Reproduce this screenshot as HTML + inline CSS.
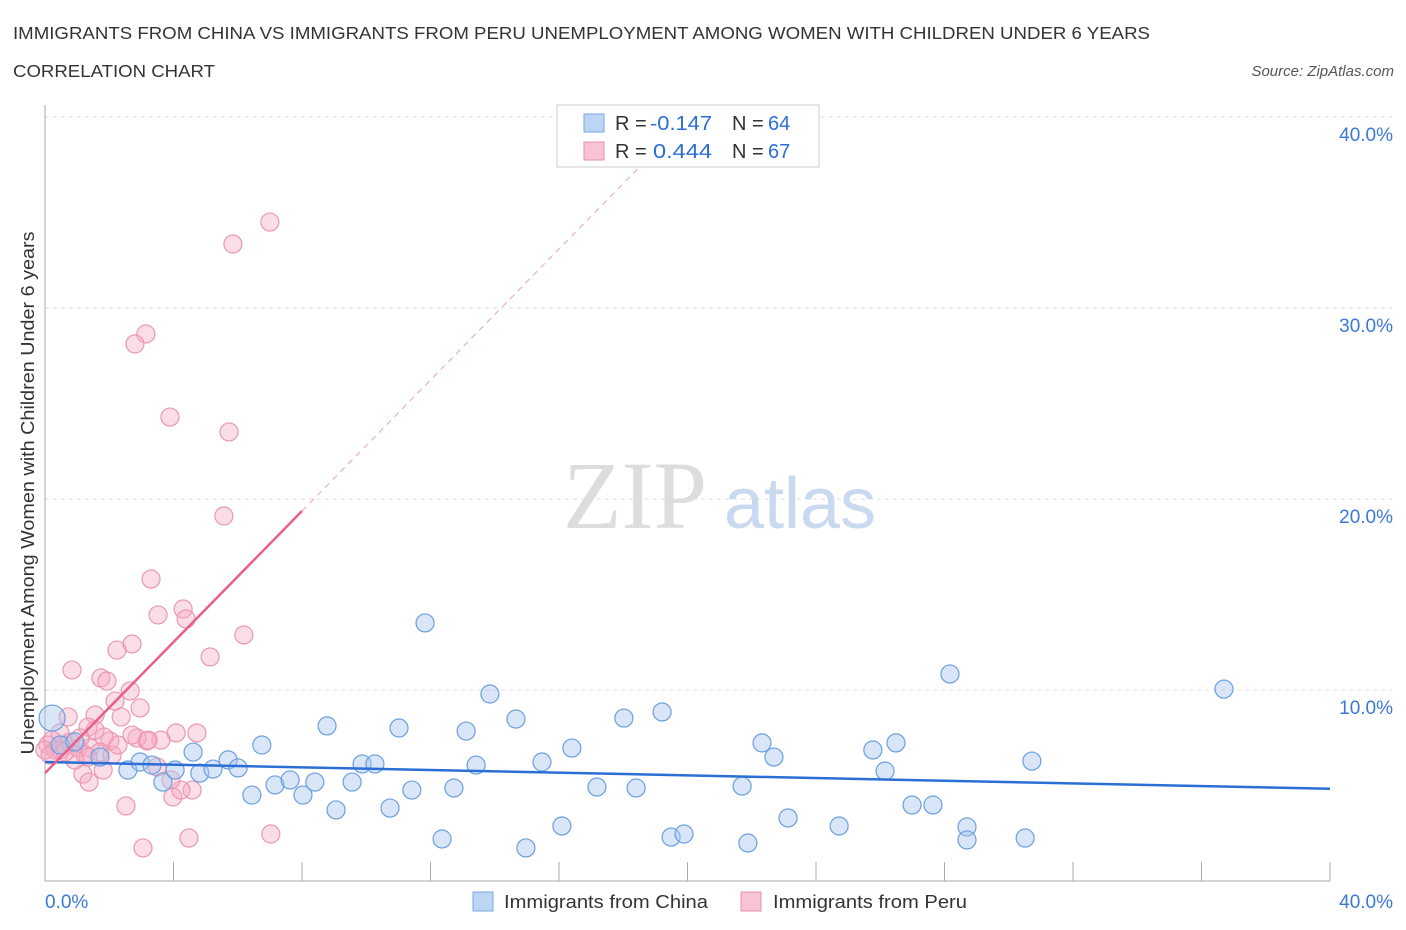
<!DOCTYPE html>
<html><head><meta charset="utf-8">
<style>
body{margin:0;background:#fff;width:1406px;height:930px;overflow:hidden;font-family:"Liberation Sans",sans-serif}
svg{display:block}
</style></head>
<body>
<svg id="chart" width="1406" height="930">
<text x="13" y="39" font-size="17.5" fill="#333" textLength="1137" lengthAdjust="spacingAndGlyphs">IMMIGRANTS FROM CHINA VS IMMIGRANTS FROM PERU UNEMPLOYMENT AMONG WOMEN WITH CHILDREN UNDER 6 YEARS</text>
<text x="13" y="77" font-size="17.5" fill="#333" textLength="202" lengthAdjust="spacingAndGlyphs">CORRELATION CHART</text>
<text x="1394" y="76" font-size="15" fill="#555" font-style="italic" text-anchor="end">Source: ZipAtlas.com</text>
<g id="grid"></g>
<text x="635" y="528" font-size="96" fill="#ddd" font-family="Liberation Serif,serif" text-anchor="middle">ZIP</text>
<text x="800" y="528" font-size="72" fill="#c9d9f0" text-anchor="middle">atlas</text>
<g id="marks"></g>
<text transform="translate(34,493) rotate(-90)" font-size="18" fill="#333" text-anchor="middle" textLength="523" lengthAdjust="spacingAndGlyphs">Unemployment Among Women with Children Under 6 years</text>
<g>
<rect x="557" y="105" width="262" height="62" fill="#fff" stroke="#ccc"/>
<rect x="584" y="114" width="20" height="18" fill="#bcd5f5" stroke="#7aa7e0"/>
<text x="615" y="130" font-size="20" fill="#333">R =</text>
<text x="650" y="130" font-size="20" fill="#2b6fd6" textLength="62" lengthAdjust="spacingAndGlyphs">-0.147</text>
<text x="732" y="130" font-size="20" fill="#333">N =</text>
<text x="768" y="130" font-size="20" fill="#2b6fd6">64</text>
<rect x="584" y="142" width="20" height="18" fill="#f8c4d3" stroke="#e890ab"/>
<text x="615" y="158" font-size="20" fill="#333">R =</text>
<text x="653" y="158" font-size="20" fill="#2b6fd6" textLength="59" lengthAdjust="spacingAndGlyphs">0.444</text>
<text x="732" y="158" font-size="20" fill="#333">N =</text>
<text x="768" y="158" font-size="20" fill="#2b6fd6">67</text>
</g>
<g>
<rect x="473" y="892" width="20" height="19" fill="#bcd5f5" stroke="#7aa7e0"/>
<text x="504" y="908" font-size="18.5" fill="#333" textLength="204" lengthAdjust="spacingAndGlyphs">Immigrants from China</text>
<rect x="741" y="892" width="20" height="19" fill="#f8c4d3" stroke="#e890ab"/>
<text x="773" y="908" font-size="18.5" fill="#333" textLength="194" lengthAdjust="spacingAndGlyphs">Immigrants from Peru</text>
</g>
</svg>
<script>
const chinaX=[0.22,0.47,0.93,1.71,2.58,2.96,3.33,3.67,4.05,4.61,4.82,5.23,5.70,6.01,6.44,6.75,7.16,7.63,8.03,8.40,9.06,8.78,9.56,9.87,10.27,10.74,11.02,11.42,11.83,12.36,12.73,13.11,13.42,13.85,14.66,14.97,15.47,16.09,16.40,17.18,18.02,18.40,19.21,19.49,19.89,21.70,21.88,22.32,22.69,23.13,24.72,25.77,26.15,26.49,26.99,27.64,28.17,28.70,28.70,30.51,30.72,36.70];
const chinaY=[8.53,7.12,7.28,6.49,5.81,6.23,6.07,5.18,5.81,6.75,5.65,5.86,6.34,5.92,4.50,7.12,5.03,5.29,4.50,5.18,3.72,8.12,5.18,6.13,6.13,3.82,8.01,4.76,13.51,2.20,4.87,7.85,6.07,9.79,8.48,1.73,6.23,2.88,6.96,4.92,8.53,4.87,8.85,2.30,2.46,4.97,1.99,7.23,6.49,3.30,2.88,6.86,5.76,7.23,3.98,3.98,10.84,2.83,2.15,2.25,6.28,10.05];
const peruX=[7.00,5.85,3.14,2.80,3.89,5.73,5.57,3.30,4.30,3.52,4.39,2.71,2.24,5.14,6.19,0.84,1.74,1.93,2.65,2.18,2.96,2.37,0.72,1.56,1.34,4.73,4.08,3.61,3.18,2.86,2.02,1.84,0.47,0.22,0.62,1.03,1.40,0.31,1.71,0.78,1.25,0.09,2.09,3.49,1.81,1.18,1.37,2.52,3.98,4.58,4.23,3.92,4.48,7.03,3.05,1.34,0.47,0.93,1.56,0.0,0.16,2.27,0.62,2.71,3.21,1.09];
const peruY=[34.50,33.35,28.64,28.12,24.29,23.51,19.11,15.81,14.24,13.93,13.72,12.41,12.09,11.73,12.88,11.05,10.63,10.47,9.95,9.42,9.06,8.59,8.59,8.69,8.06,7.75,7.75,7.38,7.33,7.49,7.33,7.54,7.75,7.38,7.12,6.96,6.96,6.86,6.75,7.28,6.60,7.12,6.60,5.97,5.81,5.60,5.18,3.93,4.40,4.76,4.76,5.29,2.25,2.46,1.73,6.49,6.86,6.33,7.90,6.86,6.60,7.12,6.75,7.64,7.38,7.49];
const chinaTrend=[6.23,-0.035];   // intercept, slope
const peruTrend=[5.65,1.715];
const xTicks=[0,4,8,12,16,20,24,28,32,36,40];
const yTicks=[10,20,30,40];
const yTickLabels=["10.0%","20.0%","30.0%","40.0%"];

const X=v=>45+v*32.125, Y=v=>881-v*19.1;
const NS="http://www.w3.org/2000/svg";
function mk(p,t,a){const e=document.createElementNS(NS,t);for(const k in a)e.setAttribute(k,a[k]);p.appendChild(e);return e;}
const grid=document.getElementById('grid'), marks=document.getElementById('marks');
yTicks.forEach((t,i)=>{
 const l=mk(grid,'line',{x1:45,x2:1392,y1:Y(t),y2:Y(t),stroke:'#ddd','stroke-dasharray':'4,4'});
 
 
 const tx=mk(grid,'text',{x:1393,y:Y(t)+24,'font-size':19,fill:'#3b78d8','text-anchor':'end'});
 tx.textContent=yTickLabels[i];
 
 
});
const ax=mk(grid,'line',{x1:45,x2:1330,y1:881,y2:881,stroke:'#aaa'});


const ay=mk(grid,'line',{x1:45,x2:45,y1:105,y2:881,stroke:'#aaa'});


xTicks.forEach(t=>{
 const l=mk(grid,'line',{x1:X(t),x2:X(t),y1:862,y2:881,stroke:'#aaa'});
 
 
});
[[0,"0.0%","start",45],[40,"40.0%","end",1393]].forEach(d=>{
 const tx=mk(grid,'text',{x:d[3],y:908,'font-size':19,fill:'#3b78d8','text-anchor':d[2]});
 tx.textContent=d[1];
 
 
});
peruX.forEach((x,i)=>{
 const c=mk(marks,'circle',{cx:X(x),cy:Y(peruY[i]),r:9,fill:'rgba(244,170,195,0.4)',stroke:'#eb97b2','stroke-width':1.2});
 
 
});
chinaX.forEach((x,i)=>{
 const c=mk(marks,'circle',{cx:X(x),cy:Y(chinaY[i]),r:i===0?13:9,fill:'rgba(168,200,240,0.45)',stroke:'#6a9fe0','stroke-width':1.2});
 
 
});
const cl=mk(marks,'line',{x1:X(0),y1:Y(chinaTrend[0]),x2:X(40),y2:Y(chinaTrend[0]+chinaTrend[1]*40),stroke:'#2b6fd6','stroke-width':2.5});


const pEnd=(40-peruTrend[0])/peruTrend[1];
const pd=mk(marks,'line',{x1:X(8),y1:Y(peruTrend[0]+peruTrend[1]*8),x2:X(pEnd),y2:Y(40),stroke:'#e8a0b8','stroke-width':1,'stroke-dasharray':'6,5'});


const pl=mk(marks,'line',{x1:X(0),y1:Y(peruTrend[0]),x2:X(8),y2:Y(peruTrend[0]+peruTrend[1]*8),stroke:'#e8608a','stroke-width':2.5});


</script>
</body></html>
